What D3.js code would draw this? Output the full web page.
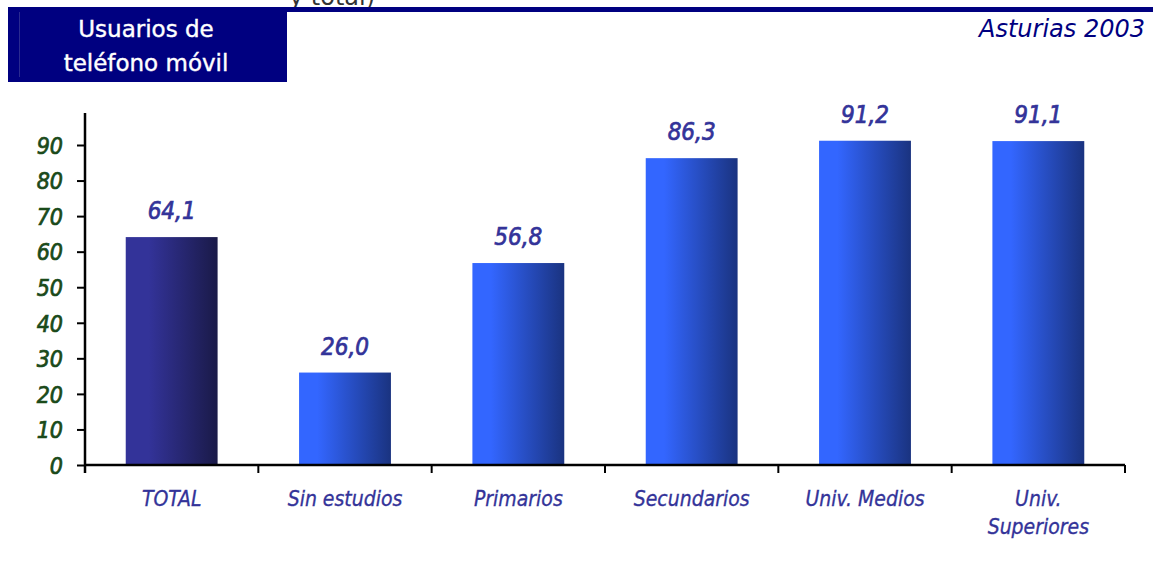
<!DOCTYPE html>
<html><head><meta charset="utf-8">
<script src="https://cdn.jsdelivr.net/npm/d3@7"></script>
<style>body{margin:0;background:#fff;}svg{display:block;}</style>
</head><body>
<svg id="c" width="1153" height="563"></svg>
<script>
const categories = ["TOTAL", "Sin estudios", "Primarios", "Secundarios", "Univ. Medios", "Univ. Superiores"];
const catLines = [["TOTAL"], ["Sin estudios"], ["Primarios"], ["Secundarios"], ["Univ. Medios"], ["Univ.", "Superiores"]];
const values = [64.1, 26.0, 56.8, 86.3, 91.2, 91.1];
const yTicks = [0, 10, 20, 30, 40, 50, 60, 70, 80, 90];
const titleLines = ["Usuarios de", "teléfono móvil"];
const subtitle = "Asturias 2003";
const cutText = "y total)";

const svg = d3.select("#c");
const x0 = 85, x1 = 1125, yBase = 465;
const x = d3.scaleBand().domain(categories).range([x0, x1]).paddingInner(0.47).paddingOuter(0.235);
const y = d3.scaleLinear().domain([0, 90]).range([yBase, 145]);
const FF = "DejaVu Sans, Verdana, sans-serif";
const FC = "DejaVu Sans Condensed, DejaVu Sans, sans-serif";

const defs = svg.append("defs");
const g1 = defs.append("linearGradient").attr("id", "gTot");
g1.append("stop").attr("offset", "0").attr("stop-color", "#333399");
g1.append("stop").attr("offset", "0.25").attr("stop-color", "#333399");
g1.append("stop").attr("offset", "1").attr("stop-color", "#1a1a48");
const g2 = defs.append("linearGradient").attr("id", "gBar");
g2.append("stop").attr("offset", "0").attr("stop-color", "#3366ff");
g2.append("stop").attr("offset", "0.2").attr("stop-color", "#3366ff");
g2.append("stop").attr("offset", "1").attr("stop-color", "#1a3380");

// header
svg.append("text").attr("x", 289).attr("y", 5).attr("font-family", FF)
  .attr("font-size", 24).attr("fill", "#333").text(cutText);
svg.append("rect").attr("x", 287).attr("y", 7).attr("width", 866).attr("height", 5).attr("fill", "#000080");
svg.append("rect").attr("x", 8).attr("y", 7).attr("width", 279).attr("height", 75).attr("fill", "#000080");
svg.append("line").attr("x1", 19.5).attr("x2", 19.5).attr("y1", 12).attr("y2", 77).attr("stroke", "#2a2a90").attr("stroke-width", 1);
svg.append("g").selectAll("text").data(titleLines).join("text")
  .attr("x", 146).attr("y", (d, i) => 37 + i * 34).attr("text-anchor", "middle")
  .attr("font-family", FF).attr("font-size", 23)
  .attr("fill", "#fff").attr("stroke", "#fff").attr("stroke-width", 0.4).text(d => d);
svg.append("text").attr("x", 1145).attr("y", 37).attr("text-anchor", "end")
  .attr("font-family", FF).attr("font-style", "italic")
  .attr("font-size", 24).attr("fill", "#000080").text(subtitle);

// bars
svg.append("g").selectAll("rect").data(values).join("rect")
  .attr("x", (d, i) => x(categories[i])).attr("width", x.bandwidth())
  .attr("y", d => y(d)).attr("height", d => yBase - y(d))
  .attr("fill", (d, i) => i === 0 ? "url(#gTot)" : "url(#gBar)");

// value labels
svg.append("g").selectAll("text").data(values).join("text")
  .attr("x", (d, i) => x(categories[i]) + x.bandwidth() / 2).attr("y", d => y(d) - 18)
  .attr("text-anchor", "middle").attr("font-family", FC)
  .attr("font-style", "italic").attr("font-size", 24).attr("fill", "#333399")
  .attr("stroke", "#333399").attr("stroke-width", 0.7)
  .text(d => d3.format(".1f")(d).replace(".", ","));

// y axis
const yAxis = d3.axisLeft(y).tickValues(yTicks).tickSize(8).tickPadding(14).tickFormat(d3.format("d"));
const ya = svg.append("g").attr("transform", `translate(${x0},0)`).call(yAxis);
ya.select(".domain").remove();
ya.selectAll(".tick line").attr("stroke", "#000").attr("stroke-width", 2);
ya.selectAll(".tick text").attr("font-family", FC).attr("font-style", "italic")
  .attr("font-size", 23).attr("fill", "#1a4a1a").attr("stroke", "#1a4a1a").attr("stroke-width", 0.7)
  .attr("dy", "0.36em");
svg.append("line").attr("x1", x0).attr("x2", x0).attr("y1", 113).attr("y2", yBase + 8).attr("stroke", "#000").attr("stroke-width", 2.5);

// x axis
const xb = d3.scaleLinear().domain([0, 6]).range([x0, x1]);
svg.append("line").attr("x1", x0).attr("x2", x1).attr("y1", yBase).attr("y2", yBase).attr("stroke", "#000").attr("stroke-width", 2.5);
svg.append("g").selectAll("line").data(d3.range(1, 7)).join("line")
  .attr("x1", d => xb(d)).attr("x2", d => xb(d)).attr("y1", yBase).attr("y2", yBase + 8)
  .attr("stroke", "#000").attr("stroke-width", 2);

// category labels
const cl = svg.append("g").selectAll("text").data(catLines).join("text")
  .attr("transform", (d, i) => `translate(${x(categories[i]) + x.bandwidth() / 2},506)`)
  .attr("text-anchor", "middle").attr("font-family", FC)
  .attr("font-style", "italic").attr("font-size", 21).attr("fill", "#333399")
  .attr("stroke", "#333399").attr("stroke-width", 0.3);
cl.selectAll("tspan").data(d => d).join("tspan").attr("x", 0).attr("y", (d, i) => i * 28).text(d => d);
</script>
</body></html>
